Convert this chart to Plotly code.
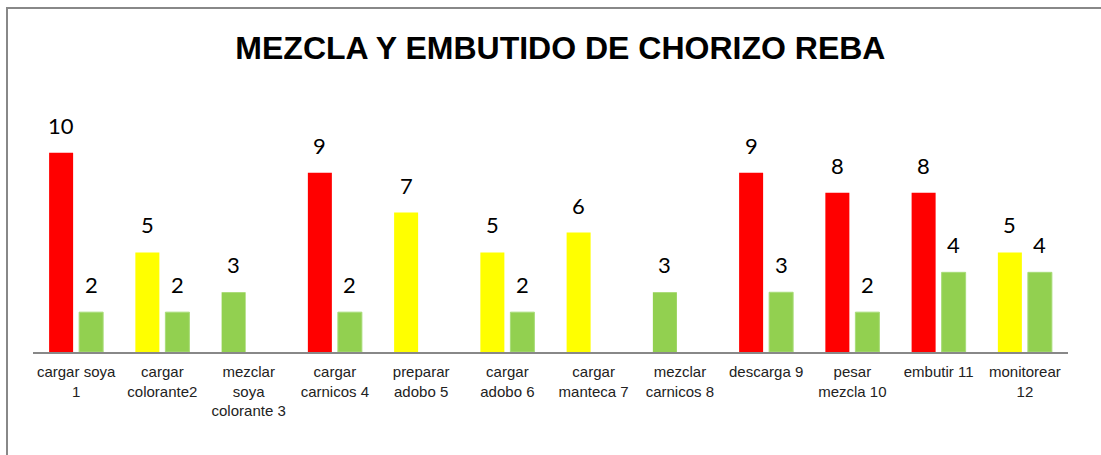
import plotly.graph_objects as go

# Data
categories = ["cargar soya<br>1", "cargar<br>colorante2", "mezclar<br>soya<br>colorante 3",
              "cargar<br>carnicos 4", "preparar<br>adobo 5", "cargar<br>adobo 6",
              "cargar<br>manteca 7", "mezclar<br>carnicos 8", "descarga 9",
              "pesar<br>mezcla 10", "embutir 11", "monitorear<br>12"]
riesgo_inicial = [10, 5, 3, 9, 7, 5, 6, 3, 9, 8, 8, 5]
riesgo_final = [2, 2, None, 2, None, 2, None, None, 3, 2, 4, 4]

RED, YELLOW, GREEN = "#FF0000", "#FFFF00", "#92D050"


def level_color(v):
    if v >= 8:
        return RED
    if v >= 4:
        return YELLOW
    return GREEN


colors1 = [level_color(v) for v in riesgo_inicial]

fig = go.Figure()
fig.add_trace(go.Bar(x=categories, y=riesgo_inicial, marker_color=colors1,
                     marker_line_width=0, name="inicial"))
fig.add_trace(go.Bar(x=categories, y=riesgo_final, marker_color=GREEN,
                     marker_line=dict(color="#A8DC78", width=1), name="final"))

# value labels above the bars
annotations = []
for series, shift in ((riesgo_inicial, -15), (riesgo_final, 15)):
    for cat, v in zip(categories, series):
        if v is None:
            continue
        annotations.append(dict(x=cat, y=v, text=str(v), showarrow=False,
                                xshift=shift, yshift=12, yanchor="bottom",
                                font=dict(family="Lato", size=22, color="#000")))

fig.update_layout(
    width=1101, height=455,
    margin=dict(l=33, r=33, t=113, b=103),
    plot_bgcolor="white", paper_bgcolor="white",
    barmode="group", bargap=0.304, bargroupgap=0.2,
    showlegend=False,
    title=dict(text="<b>MEZCLA Y EMBUTIDO DE CHORIZO REBA</b>",
               x=0.509, xanchor="center", y=1 - 48 / 455, yanchor="middle",
               font=dict(family="Liberation Sans", size=32, color="#000")),
    annotations=annotations,
    shapes=[dict(type="rect", xref="paper", yref="paper",
                 x0=(7 - 33) / 1035, x1=1.2, y0=-1, y1=(352 - 8) / 239,
                 line=dict(color="#888", width=2), layer="below")],
)
fig.update_xaxes(showline=True, linecolor="#888", linewidth=2, ticks="",
                 ticklabelstandoff=5,
                 tickfont=dict(family="Liberation Sans", size=15, color="#222"),
                 showgrid=False)
fig.update_yaxes(range=[0, 12], visible=False, showgrid=False)

fig.write_html("out.html", config={"displayModeBar": False},
               post_script="document.body.style.margin = '0';")
